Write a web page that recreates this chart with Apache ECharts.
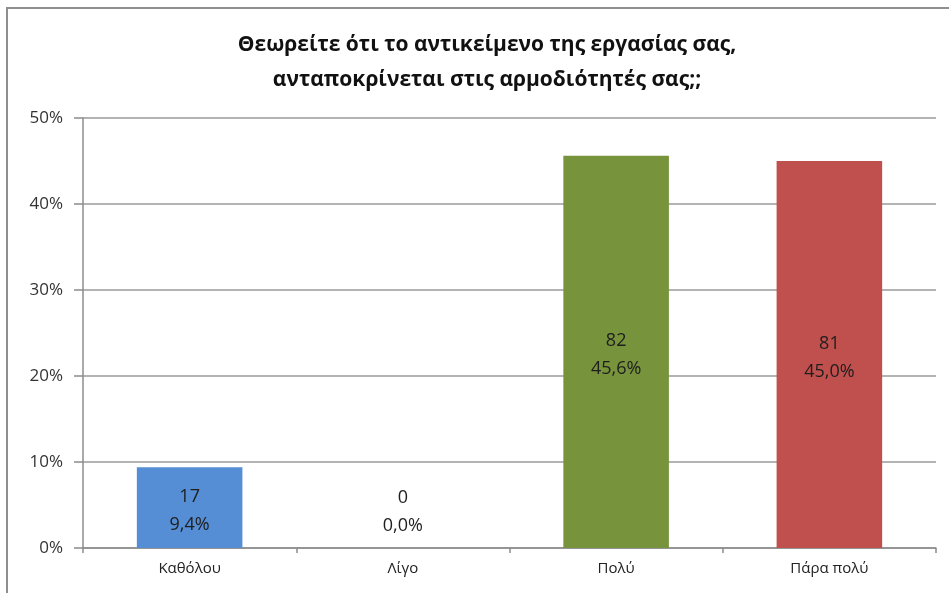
<!DOCTYPE html>
<html><head><meta charset="utf-8">
<script src="https://cdn.jsdelivr.net/npm/echarts@6/dist/echarts.min.js"></script>
<style>
html,body{margin:0;padding:0;background:#fff;overflow:hidden;}
#frame{position:absolute;left:6px;top:7px;width:960px;height:600px;border:2px solid #8f8f8f;box-sizing:border-box;}
#c{position:absolute;left:0;top:0;width:949px;height:593px;}
</style></head>
<body><div id="frame"></div><div id="c"></div>
<script>
const titleLines = ["Θεωρείτε ότι το αντικείμενο της εργασίας σας,", "ανταποκρίνεται στις αρμοδιότητές σας;;"];
const categories = ["Καθόλου", "Λίγο", "Πολύ", "Πάρα πολύ"];
const counts = [17, 0, 82, 81];
const percents = [9.4, 0.0, 45.6, 45.0];
const barColors = ["#558ED5", "#558ED5", "#77933C", "#C0504D"];
const yTicks = [0, 10, 20, 30, 40, 50];

const FONT = "'Open Sans', 'Noto Sans', sans-serif";
const chart = echarts.init(document.getElementById('c'), null, {renderer: 'canvas'});
const data = percents.map((v, i) => ({
  value: v,
  itemStyle: {color: barColors[i]},
  label: v === 0 ? {position: 'inside', offset: [0, -36]} : {}
}));
chart.setOption({
  animation: false,
  backgroundColor: 'transparent',
  title: {
    text: titleLines.join('\n'),
    left: 482, top: 23, textAlign: 'center',
    textStyle: {fontFamily: FONT, fontSize: 21, fontWeight: 'bold', color: '#111', lineHeight: 35}
  },
  grid: {left: 83, right: 13, top: 118, bottom: 45},
  xAxis: {
    type: 'category', data: categories,
    axisLine: {lineStyle: {color: '#8c8c8c', width: 1.5}},
    axisTick: {show: true, length: 5, lineStyle: {color: '#8c8c8c', width: 1.5}},
    axisLabel: {fontFamily: FONT, fontSize: 15, color: '#222', margin: 13}
  },
  yAxis: {
    type: 'value', min: 0, max: 50, interval: 10,
    axisLine: {show: true, lineStyle: {color: '#8c8c8c', width: 1.5}},
    axisTick: {show: true, length: 9, lineStyle: {color: '#8c8c8c', width: 1.5}},
    splitLine: {lineStyle: {color: '#9a9a9a', width: 1.5}},
    axisLabel: {fontFamily: FONT, fontSize: 17, color: '#333', margin: 20,
      formatter: v => yTicks.includes(v) ? v + '%' : ''}
  },
  series: [{
    type: 'bar', data: data, barWidth: '49.5%',
    label: {
      show: true, position: 'inside', fontFamily: FONT, fontSize: 18, color: '#1e1e1e', lineHeight: 28,
      offset: [0, 3],
      formatter: p => counts[p.dataIndex] + '\n' + percents[p.dataIndex].toFixed(1).replace('.', ',') + '%'
    }
  }]
});
</script></body></html>
